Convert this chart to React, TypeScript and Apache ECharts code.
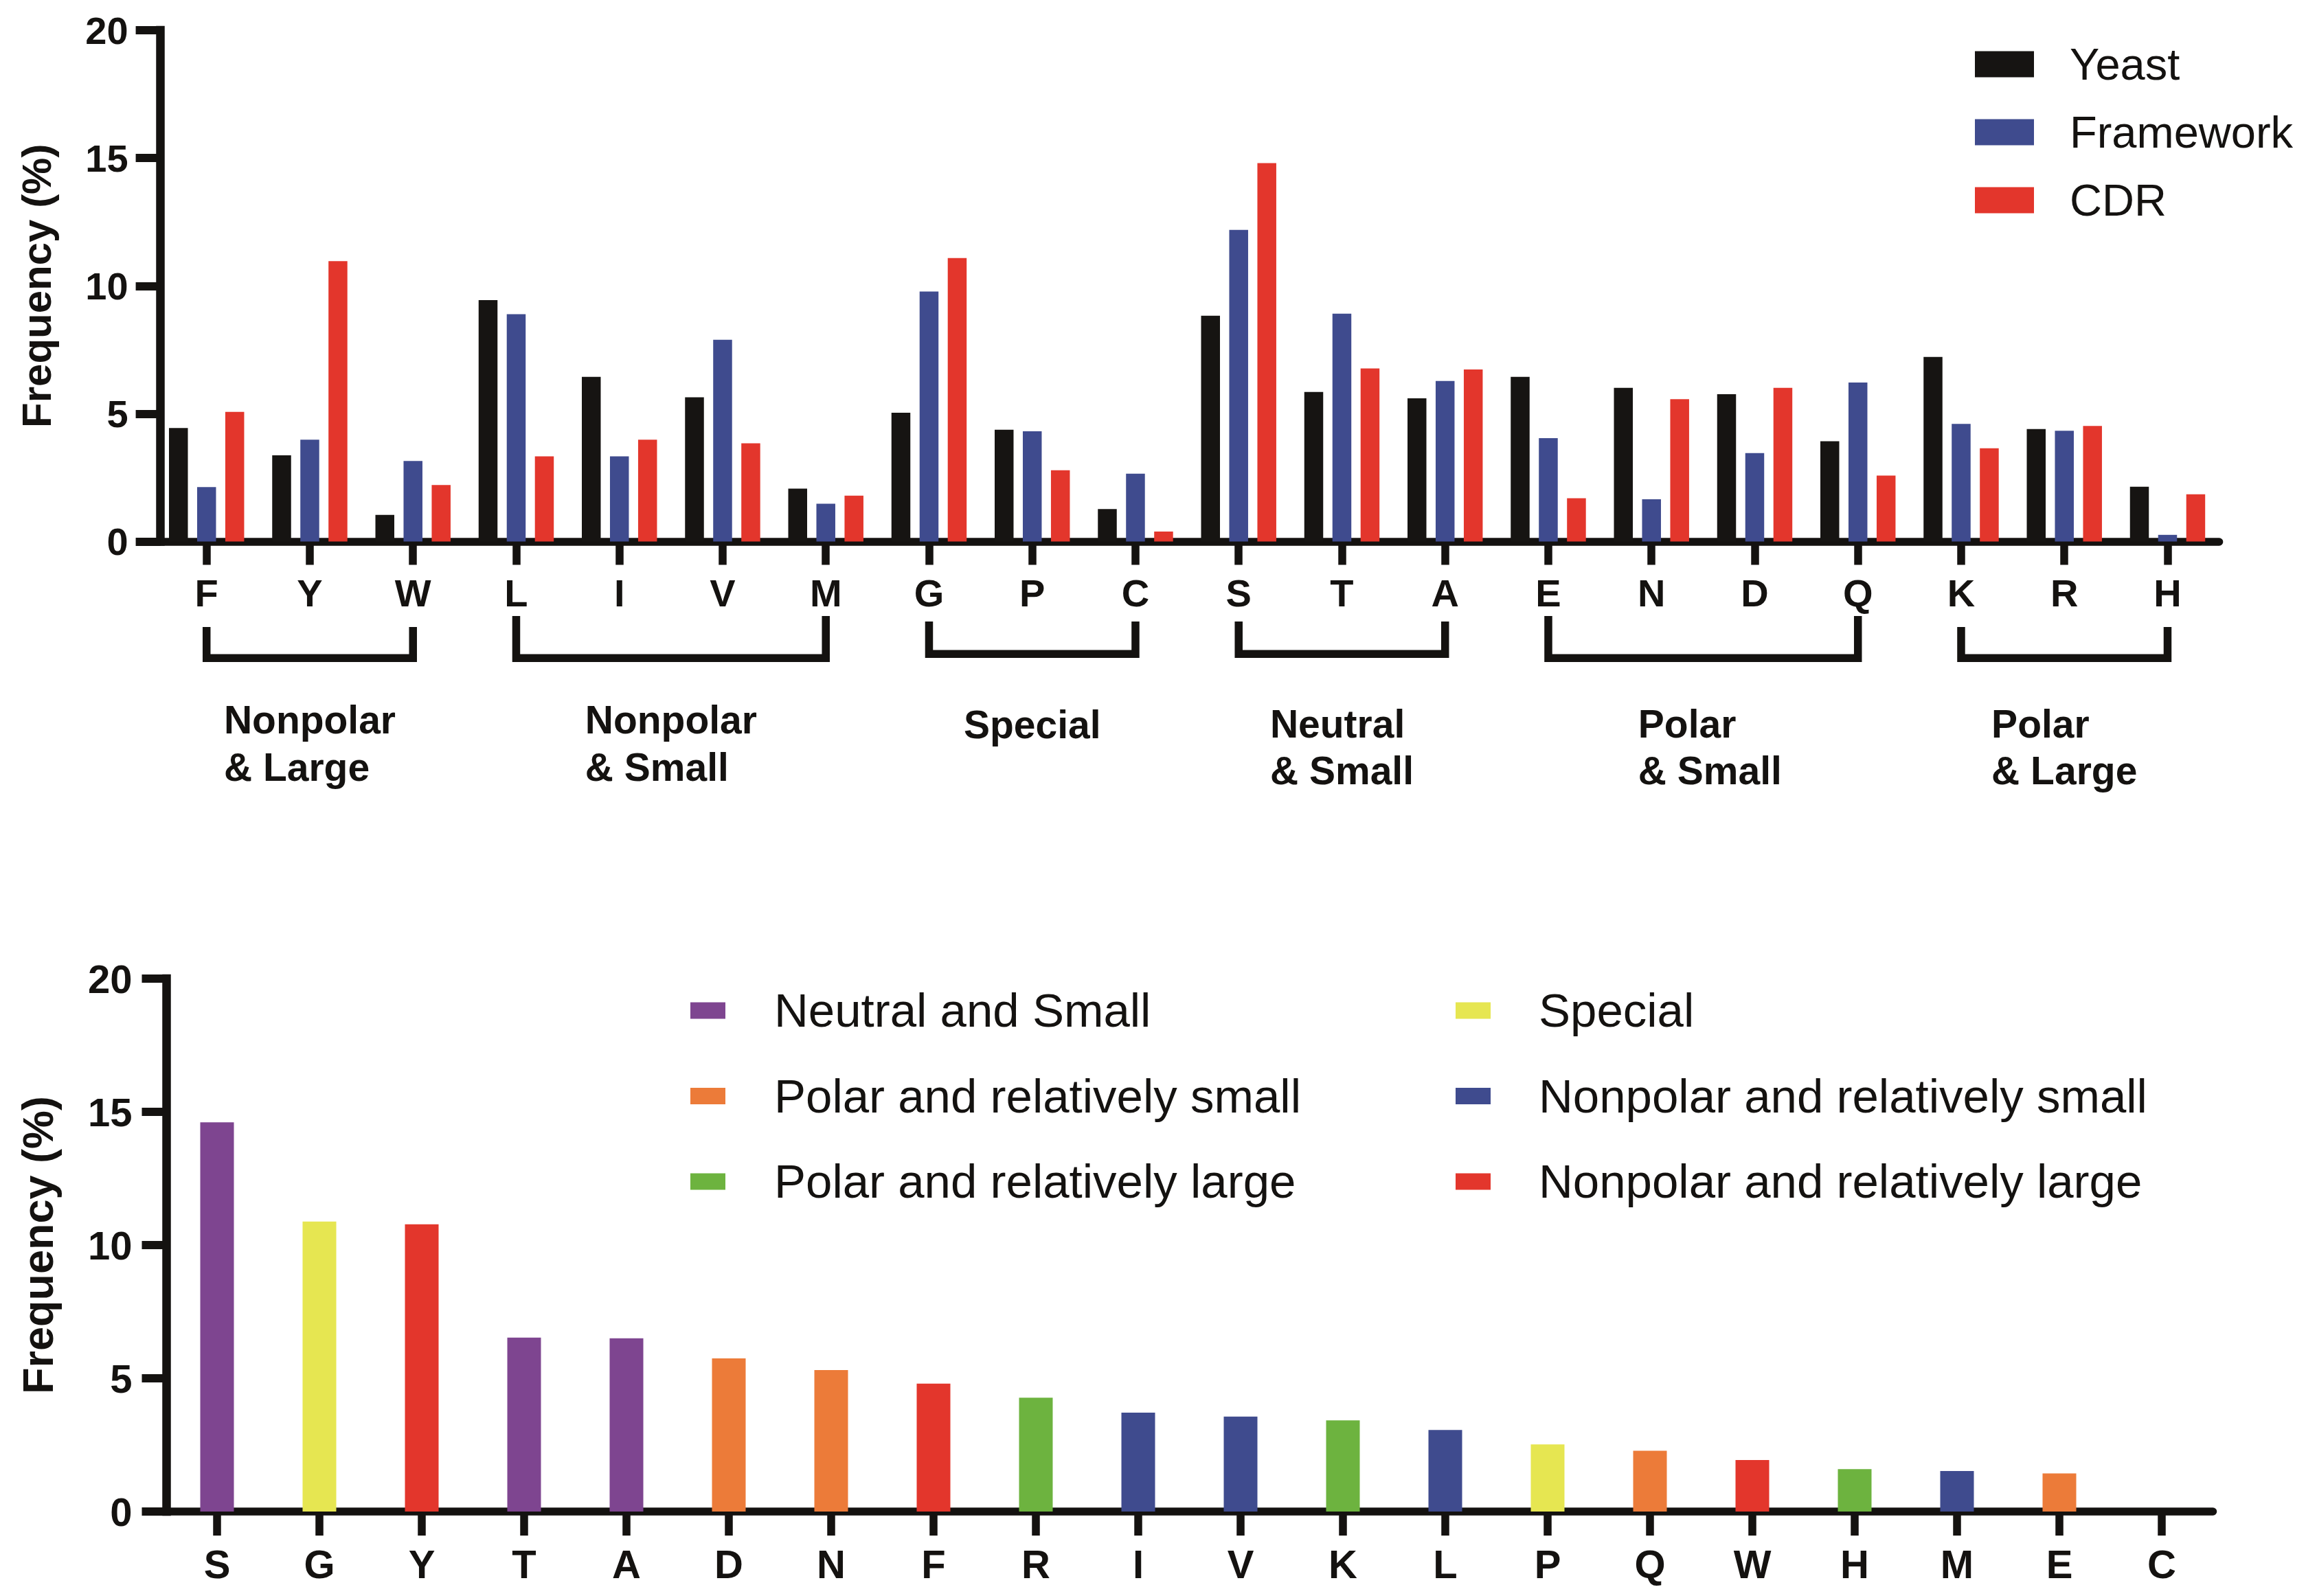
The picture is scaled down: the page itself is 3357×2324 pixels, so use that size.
import React, { useEffect, useRef } from "react";
import * as echarts from "echarts";

// ---------- data ----------
const topCategories = ["F", "Y", "W", "L", "I", "V", "M", "G", "P", "C", "S", "T", "A", "E", "N", "D", "Q", "K", "R", "H"];
const yeastValues = [4.44, 3.37, 1.04, 9.44, 6.44, 5.64, 2.07, 5.04, 4.37, 1.27, 8.83, 5.85, 5.6, 6.44, 6.01, 5.76, 3.92, 7.22, 4.4, 2.14];
const frameworkValues = [2.13, 3.98, 3.15, 8.89, 3.33, 7.89, 1.48, 9.78, 4.31, 2.65, 12.19, 8.91, 6.28, 4.04, 1.65, 3.46, 6.22, 4.6, 4.33, 0.26];
const cdrValues = [5.07, 10.97, 2.21, 3.33, 3.98, 3.84, 1.79, 11.09, 2.79, 0.39, 14.8, 6.77, 6.73, 1.69, 5.57, 6.01, 2.58, 3.65, 4.52, 1.85];
const topSeriesNames = ["Yeast", "Framework", "CDR"];
const topSeriesColors = ["#161412", "#3f4b8e", "#e3362c"];

const groupRanges = [["F", "W"], ["L", "M"], ["G", "C"], ["S", "A"], ["E", "Q"], ["K", "H"]];
const groupLabels = [["Nonpolar", "& Large"], ["Nonpolar", "& Small"], ["Special"], ["Neutral", "& Small"], ["Polar", "& Small"], ["Polar", "& Large"]];

const bottomCategories = ["S", "G", "Y", "T", "A", "D", "N", "F", "R", "I", "V", "K", "L", "P", "Q", "W", "H", "M", "E", "C"];
const bottomValues = [14.61, 10.88, 10.78, 6.53, 6.5, 5.75, 5.31, 4.8, 4.27, 3.71, 3.56, 3.42, 3.06, 2.52, 2.28, 1.93, 1.59, 1.52, 1.43, 0];
const bottomGroupOf = [
  "Neutral and Small", "Special", "Nonpolar and relatively large", "Neutral and Small", "Neutral and Small",
  "Polar and relatively small", "Polar and relatively small", "Nonpolar and relatively large", "Polar and relatively large",
  "Nonpolar and relatively small", "Nonpolar and relatively small", "Polar and relatively large", "Nonpolar and relatively small",
  "Special", "Polar and relatively small", "Nonpolar and relatively large", "Polar and relatively large",
  "Nonpolar and relatively small", "Polar and relatively small", "Special",
];
const legendColumn1 = ["Neutral and Small", "Polar and relatively small", "Polar and relatively large"];
const legendColumn2 = ["Special", "Nonpolar and relatively small", "Nonpolar and relatively large"];
const bottomGroupNames = [...legendColumn1, ...legendColumn2];
const bottomGroupColors: Record<string, string> = {
  "Neutral and Small": "#7e4590",
  "Polar and relatively small": "#ec7b39",
  "Polar and relatively large": "#6db33f",
  "Special": "#e6e651",
  "Nonpolar and relatively small": "#3f4b8e",
  "Nonpolar and relatively large": "#e3362c",
};

const yMin = 0;
const yMax = 20;
const yInterval = 5;

// ---------- style ----------
const FONT = "Liberation Sans, Arial, Helvetica, sans-serif";
const INK = "#141210";
const W = 3357;
const H = 2324;

function buildOption(): any {
  const axisY = (grid: number, labelSize: number, nameSize: number, nameGap: number, offset: number, margin: number) => ({
    type: "value",
    gridIndex: grid,
    min: yMin,
    max: yMax,
    interval: yInterval,
    offset,
    name: "Frequency (%)",
    nameLocation: "middle",
    nameGap,
    nameTextStyle: { fontFamily: FONT, fontSize: nameSize, fontWeight: "bold", color: INK },
    axisLine: { show: true, lineStyle: { color: INK, width: 12.5, cap: "square" } },
    axisTick: { show: true, length: 36, lineStyle: { color: INK, width: 12 } },
    axisLabel: { margin, fontFamily: FONT, fontSize: labelSize, fontWeight: "bold", color: INK },
    splitLine: { show: false },
  });
  const axisX = (grid: number, data: string[], labelSize: number, tickLen: number) => ({
    type: "category",
    gridIndex: grid,
    data,
    axisLine: { show: true, lineStyle: { color: INK, width: 11.5 } },
    axisTick: { show: true, alignWithLabel: true, length: tickLen, lineStyle: { color: INK, width: 11.5 } },
    axisLabel: { interval: 0, margin: 47, fontFamily: FONT, fontSize: labelSize, fontWeight: "bold", color: INK },
    splitLine: { show: false },
  });

  const topValues = [yeastValues, frameworkValues, cdrValues];
  const topSeries = topSeriesNames.map((name, i) => ({
    name,
    type: "bar",
    xAxisIndex: 0,
    yAxisIndex: 0,
    barWidth: 27.5,
    barGap: "49%",
    itemStyle: { color: topSeriesColors[i] },
    data: topValues[i],
  }));

  const bottomSeries = bottomGroupNames.map((g) => ({
    name: g,
    type: "bar",
    xAxisIndex: 1,
    yAxisIndex: 1,
    barWidth: 49,
    barGap: "-100%",
    itemStyle: { color: bottomGroupColors[g] },
    data: bottomCategories.map((_, i) => (bottomGroupOf[i] === g ? bottomValues[i] : "-")),
  }));

  const legendText = (pad: number, size: number) => ({
    fontFamily: FONT,
    fontSize: size,
    color: INK,
    padding: [0, 0, 0, pad],
  });

  return {
    animation: false,
    backgroundColor: "#ffffff",
    grid: [
      { left: 225.6, top: 44, width: 3005, height: 744.5 },
      { left: 241.5, top: 1425, width: 2980, height: 776 },
    ],
    xAxis: [axisX(0, topCategories, 56, 34), axisX(1, bottomCategories, 58, 35)],
    yAxis: [axisY(0, 56, 60, 150, -8, 47), axisY(1, 58, 63, 156, -1, 50)],
    legend: [
      {
        orient: "vertical",
        left: 2870,
        top: 56,
        itemWidth: 86,
        itemHeight: 38,
        itemGap: 34,
        icon: "rect",
        data: topSeriesNames,
        textStyle: legendText(47, 65),
      },
      {
        orient: "vertical",
        left: 1000,
        top: 1432,
        itemWidth: 51,
        itemHeight: 24,
        itemGap: 55.5,
        icon: "rect",
        data: legendColumn1,
        textStyle: legendText(66, 69),
      },
      {
        orient: "vertical",
        left: 2114,
        top: 1432,
        itemWidth: 51,
        itemHeight: 24,
        itemGap: 55.5,
        icon: "rect",
        data: legendColumn2,
        textStyle: legendText(65, 69),
      },
    ],
    series: [...topSeries, ...bottomSeries],
  };
}

// bracket / group-label layout (annotation geometry, in px)
const bracketTop = [913, 897, 905, 905, 897, 913];
const bracketOuterBottom = [964, 964, 958, 958, 964, 964];
const bracketWidth = 11.5;
const labelLine1Base = [1068, 1068, 1075, 1074, 1074, 1074];
const labelLine2Base = [1137, 1137, 0, 1142, 1142, 1142];
const labelShift = [0, 0, 0, 0, 10, 0];
const labelFont = 57;

export default function App() {
  const ref = useRef<HTMLDivElement>(null);

  useEffect(() => {
    const el = ref.current;
    if (!el) return;
    const chart = echarts.init(el, null, { renderer: "svg", width: W, height: H });
    chart.setOption(buildOption());

    const canvas = document.createElement("canvas");
    const ctx = canvas.getContext("2d");
    if (ctx) ctx.font = `bold ${labelFont}px ${FONT}`;
    const measure = (t: string) => (ctx ? ctx.measureText(t).width : t.length * labelFont * 0.6);

    const elements: any[] = [];
    groupRanges.forEach((rng, gi) => {
      const i1 = topCategories.indexOf(rng[0]);
      const i2 = topCategories.indexOf(rng[1]);
      const x1 = chart.convertToPixel({ xAxisIndex: 0 } as any, i1) as unknown as number;
      const x2 = chart.convertToPixel({ xAxisIndex: 0 } as any, i2) as unknown as number;
      const yb = bracketOuterBottom[gi] - bracketWidth / 2;
      elements.push({
        type: "polyline",
        shape: { points: [[x1, bracketTop[gi]], [x1, yb], [x2, yb], [x2, bracketTop[gi]]] },
        style: { stroke: INK, lineWidth: bracketWidth, fill: null, lineJoin: "miter", lineCap: "butt" },
        silent: true,
      });
      const lines = groupLabels[gi];
      const blockW = Math.max(...lines.map(measure));
      const xs = (x1 + x2) / 2 - blockW / 2 + labelShift[gi];
      lines.forEach((t, li) => {
        const base = li === 0 ? labelLine1Base[gi] : labelLine2Base[gi];
        elements.push({
          type: "text",
          x: xs,
          y: base - 0.3465 * labelFont,
          silent: true,
          style: {
            text: t,
            fill: INK,
            fontFamily: FONT,
            fontSize: labelFont,
            fontWeight: "bold",
            align: "left",
            verticalAlign: "middle",
          },
        });
      });
    });
    chart.setOption({ graphic: elements });

    return () => {
      chart.dispose();
    };
  }, []);

  return (
    <div
      ref={ref}
      style={{ position: "absolute", left: 0, top: 0, width: W, height: H, background: "#fff" }}
    />
  );
}
